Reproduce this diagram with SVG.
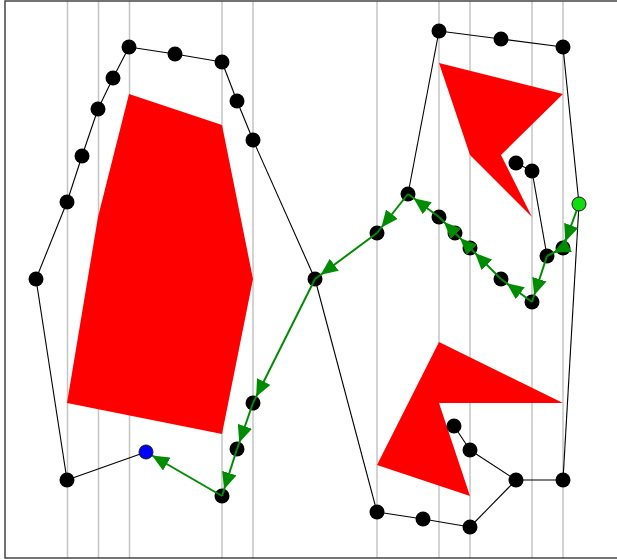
<svg xmlns="http://www.w3.org/2000/svg" width="617" height="559" viewBox="0 0 617 559">
<style>
.grid line{stroke:#c4c4c4;stroke-width:1.5}
.obs{fill:#ff0000}
.edges line{stroke:#000;stroke-width:1.1}
.path line{stroke:#008c00;stroke-width:2;marker-end:url(#ah)}
.n{fill:#000}
.goal{fill:#0000ff;stroke:#1a1a1a;stroke-width:1}
.start{fill:#11dd11;stroke:#1a1a1a;stroke-width:1}
</style>
<defs>
<marker id="ah" markerUnits="userSpaceOnUse" viewBox="0 0 17 15" markerWidth="17" markerHeight="15" refX="24" refY="7.5" orient="auto">
<path d="M0,0 L17,7.5 L0,15 Z" fill="#008c00"/>
</marker>
</defs>
<rect x="0" y="0" width="617" height="559" fill="#fff"/>
<g class="grid">
<line x1="67.5" y1="1" x2="67.5" y2="558"/>
<line x1="98.5" y1="1" x2="98.5" y2="558"/>
<line x1="129.5" y1="1" x2="129.5" y2="558"/>
<line x1="222" y1="1" x2="222" y2="558"/>
<line x1="253" y1="1" x2="253" y2="558"/>
<line x1="377" y1="1" x2="377" y2="558"/>
<line x1="439" y1="1" x2="439" y2="558"/>
<line x1="470" y1="1" x2="470" y2="558"/>
<line x1="532" y1="1" x2="532" y2="558"/>
<line x1="563" y1="1" x2="563" y2="558"/>
</g>
<g id="obstacles">
<polygon class="obs" points="129,94 222,125 253,279 222,434 67,403 98,217"/>
<polygon class="obs" points="439,63 563,94 501,155 532,217 470,155"/>
<polygon class="obs" points="439,342 563,403 439,403 470,496 377,465"/>
</g>
<rect x="5" y="1" width="620" height="557" fill="none" stroke="#444" stroke-width="1.5"/>
<g id="edges" class="edges">
<line x1="146" y1="452" x2="67" y2="480"/>
<line x1="67" y1="480" x2="36" y2="279"/>
<line x1="36" y1="279" x2="67" y2="202"/>
<line x1="67" y1="202" x2="82" y2="156"/>
<line x1="82" y1="156" x2="98" y2="109"/>
<line x1="98" y1="109" x2="113" y2="78"/>
<line x1="113" y1="78" x2="129" y2="47"/>
<line x1="129" y1="47" x2="175" y2="54"/>
<line x1="175" y1="54" x2="222" y2="62"/>
<line x1="222" y1="62" x2="237" y2="101"/>
<line x1="237" y1="101" x2="253" y2="140"/>
<line x1="253" y1="140" x2="315" y2="279"/>
<line x1="315" y1="279" x2="377" y2="512"/>
<line x1="377" y1="512" x2="423" y2="519"/>
<line x1="423" y1="519" x2="470" y2="527"/>
<line x1="470" y1="527" x2="516" y2="480"/>
<line x1="516" y1="480" x2="470" y2="450"/>
<line x1="470" y1="450" x2="454" y2="426"/>
<line x1="516" y1="480" x2="563" y2="480"/>
<line x1="563" y1="480" x2="579" y2="204"/>
<line x1="579" y1="204" x2="563" y2="47"/>
<line x1="563" y1="47" x2="501" y2="39"/>
<line x1="501" y1="39" x2="439" y2="31"/>
<line x1="439" y1="31" x2="408" y2="194"/>
<line x1="532" y1="171" x2="547" y2="256"/>
<line x1="516" y1="163" x2="532" y2="171"/>
</g>
<g id="nodes">
<g id="n1"><circle class="n" cx="36" cy="279" r="7.5"/></g>
<g id="n2"><circle class="n" cx="67" cy="202" r="7.5"/></g>
<g id="n3"><circle class="n" cx="82" cy="156" r="7.5"/></g>
<g id="n4"><circle class="n" cx="98" cy="109" r="7.5"/></g>
<g id="n5"><circle class="n" cx="113" cy="78" r="7.5"/></g>
<g id="n6"><circle class="n" cx="129" cy="47" r="7.5"/></g>
<g id="n7"><circle class="n" cx="175" cy="54" r="7.5"/></g>
<g id="n8"><circle class="n" cx="222" cy="62" r="7.5"/></g>
<g id="n9"><circle class="n" cx="237" cy="101" r="7.5"/></g>
<g id="n10"><circle class="n" cx="253" cy="140" r="7.5"/></g>
<g id="n11"><circle class="n" cx="315" cy="279" r="7.5"/></g>
<g id="n12"><circle class="n" cx="67" cy="480" r="7.5"/></g>
<g id="n13"><circle class="n" cx="222" cy="496" r="7.5"/></g>
<g id="n14"><circle class="n" cx="237" cy="449" r="7.5"/></g>
<g id="n15"><circle class="n" cx="253" cy="403" r="7.5"/></g>
<g id="n16"><circle class="n" cx="377" cy="233" r="7.5"/></g>
<g id="n17"><circle class="n" cx="408" cy="194" r="7.5"/></g>
<g id="n18"><circle class="n" cx="439" cy="217" r="7.5"/></g>
<g id="n19"><circle class="n" cx="455" cy="233" r="7.5"/></g>
<g id="n20"><circle class="n" cx="470" cy="248" r="7.5"/></g>
<g id="n21"><circle class="n" cx="501" cy="279" r="7.5"/></g>
<g id="n22"><circle class="n" cx="532" cy="302" r="7.5"/></g>
<g id="n23"><circle class="n" cx="547" cy="256" r="7.5"/></g>
<g id="n24"><circle class="n" cx="563" cy="248" r="7.5"/></g>
<g id="n25"><circle class="n" cx="532" cy="171" r="7.5"/></g>
<g id="n26"><circle class="n" cx="516" cy="163" r="7.5"/></g>
<g id="n27"><circle class="n" cx="439" cy="31" r="7.5"/></g>
<g id="n28"><circle class="n" cx="501" cy="39" r="7.5"/></g>
<g id="n29"><circle class="n" cx="563" cy="47" r="7.5"/></g>
<g id="n30"><circle class="n" cx="377" cy="512" r="7.5"/></g>
<g id="n31"><circle class="n" cx="423" cy="519" r="7.5"/></g>
<g id="n32"><circle class="n" cx="470" cy="527" r="7.5"/></g>
<g id="n33"><circle class="n" cx="516" cy="480" r="7.5"/></g>
<g id="n34"><circle class="n" cx="563" cy="480" r="7.5"/></g>
<g id="n35"><circle class="n" cx="470" cy="450" r="7.5"/></g>
<g id="n36"><circle class="n" cx="454" cy="426" r="7.5"/></g>
</g>
<g id="path" class="path">
<line x1="579" y1="204" x2="563" y2="248"/>
<line x1="563" y1="248" x2="547" y2="256"/>
<line x1="547" y1="256" x2="532" y2="302"/>
<line x1="532" y1="302" x2="501" y2="279"/>
<line x1="501" y1="279" x2="470" y2="248"/>
<line x1="470" y1="248" x2="455" y2="233"/>
<line x1="455" y1="233" x2="439" y2="217"/>
<line x1="439" y1="217" x2="408" y2="194"/>
<line x1="408" y1="194" x2="377" y2="233"/>
<line x1="377" y1="233" x2="315" y2="279"/>
<line x1="315" y1="279" x2="253" y2="403"/>
<line x1="253" y1="403" x2="237" y2="449"/>
<line x1="237" y1="449" x2="222" y2="496"/>
<line x1="222" y1="496" x2="146" y2="452"/>
</g>
<g id="goal"><circle class="goal" cx="146" cy="452" r="7"/></g>
<g id="start"><circle class="start" cx="579" cy="204" r="7"/></g>
</svg>
